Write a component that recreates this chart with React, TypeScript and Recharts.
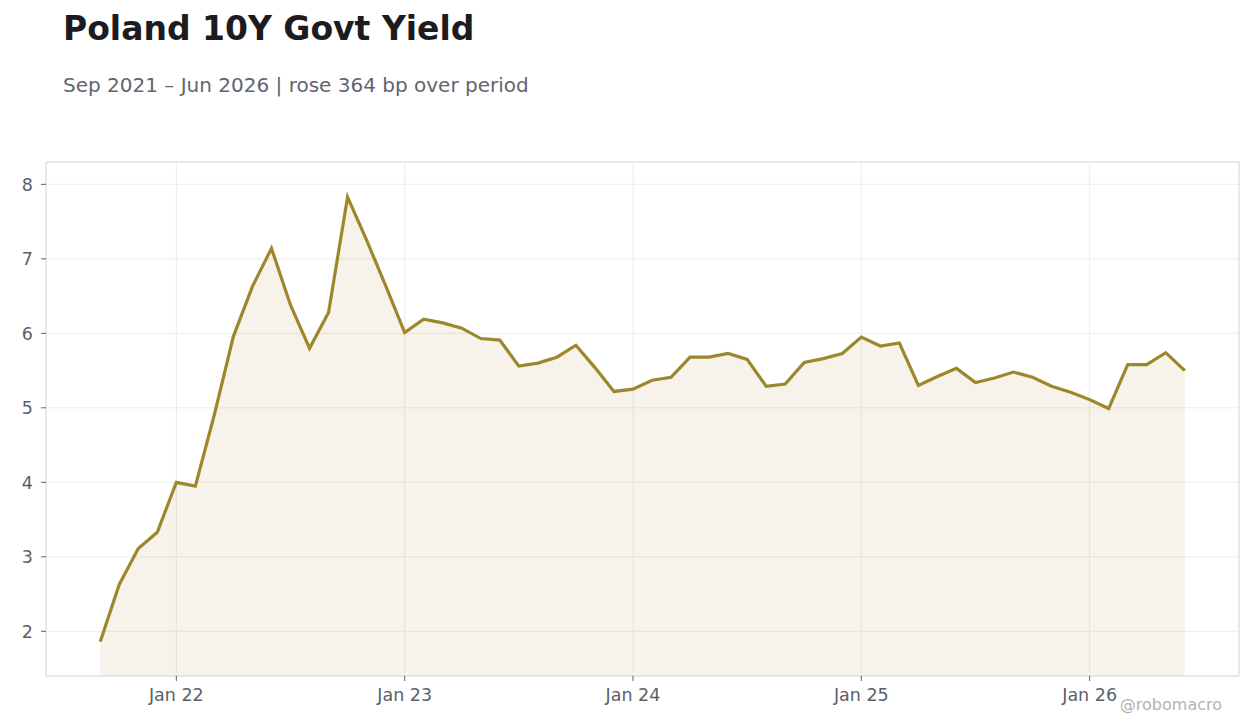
import React from 'react';
import {
  AreaChart,
  Area,
  XAxis,
  YAxis,
  CartesianGrid,
  ReferenceArea
} from 'recharts';

const MONTHS = [
  'Sep 21', 'Oct 21', 'Nov 21', 'Dec 21',
  'Jan 22', 'Feb 22', 'Mar 22', 'Apr 22', 'May 22', 'Jun 22', 'Jul 22', 'Aug 22', 'Sep 22', 'Oct 22', 'Nov 22', 'Dec 22',
  'Jan 23', 'Feb 23', 'Mar 23', 'Apr 23', 'May 23', 'Jun 23', 'Jul 23', 'Aug 23', 'Sep 23', 'Oct 23', 'Nov 23', 'Dec 23',
  'Jan 24', 'Feb 24', 'Mar 24', 'Apr 24', 'May 24', 'Jun 24', 'Jul 24', 'Aug 24', 'Sep 24', 'Oct 24', 'Nov 24', 'Dec 24',
  'Jan 25', 'Feb 25', 'Mar 25', 'Apr 25', 'May 25', 'Jun 25', 'Jul 25', 'Aug 25', 'Sep 25', 'Oct 25', 'Nov 25', 'Dec 25',
  'Jan 26', 'Feb 26', 'Mar 26', 'Apr 26', 'May 26', 'Jun 26'
];

const YIELDS = [
  1.86, 2.63, 3.11, 3.33,
  4.00, 3.95, 4.91, 5.96, 6.63, 7.14, 6.38, 5.80, 6.28, 7.83, 7.25, 6.64,
  6.01, 6.19, 6.14, 6.07, 5.93, 5.91, 5.56, 5.60, 5.68, 5.84, 5.54, 5.22,
  5.25, 5.37, 5.41, 5.68, 5.68, 5.73, 5.65, 5.29, 5.32, 5.61, 5.66, 5.73,
  5.95, 5.83, 5.87, 5.30, 5.42, 5.53, 5.34, 5.40, 5.48, 5.41, 5.29, 5.21,
  5.11, 4.99, 5.58, 5.58, 5.74, 5.50
];

// x-axis labels shown at these months
const TICK_MONTHS = ['Jan 22', 'Jan 23', 'Jan 24', 'Jan 25', 'Jan 26'];
const Y_TICKS = [2, 3, 4, 5, 6, 7, 8];

const data = YIELDS.map((v, i) => ({ i, month: MONTHS[i], yld: v }));
const xTicks = TICK_MONTHS.map((m) => MONTHS.indexOf(m));

const X_DOMAIN: [number, number] = [-2.85, 59.85];
const Y_DOMAIN: [number, number] = [1.4, 8.3];

const LINE = '#9c872b';
const FONT = '"DejaVu Sans", sans-serif';
const tickStyle = { fill: '#5c5f6b', fontSize: 17.5, fontFamily: FONT };

export default function App() {
  return (
    <div style={{ position: 'absolute', left: 0, top: 0, width: 1260, height: 728, background: '#fff' }}>
      <svg width={1260} height={140} style={{ position: 'absolute', left: 0, top: 0 }}>
        <text x={63} y={40} fontFamily={FONT} fontSize={33} fontWeight="bold" fill="#1b1b20">
          Poland 10Y Govt Yield
        </text>
        <text x={63} y={92} fontFamily={FONT} fontSize={20} fill="#62656f">
          Sep 2021 – Jun 2026 | rose 364 bp over period
        </text>
      </svg>

      <AreaChart
        width={1260}
        height={728}
        data={data}
        margin={{ top: 162, right: 21, bottom: 0, left: 0 }}
      >
        <CartesianGrid stroke="#ececec" strokeWidth={1} />
        <XAxis
          dataKey="i"
          type="number"
          domain={X_DOMAIN}
          ticks={xTicks}
          tickFormatter={(v) => MONTHS[v]}
          axisLine={false}
          tickSize={5}
          tickMargin={8}
          tickLine={{ stroke: '#5c5f6b' }}
          tick={tickStyle}
          height={52}
          allowDataOverflow
        />
        <YAxis
          domain={Y_DOMAIN}
          ticks={Y_TICKS}
          axisLine={false}
          tickSize={5}
          tickMargin={8}
          tickLine={{ stroke: '#5c5f6b' }}
          tick={tickStyle}
          width={46}
          allowDataOverflow
        />
        <Area
          type="linear"
          dataKey="yld"
          stroke={LINE}
          strokeWidth={3.2}
          fill="#af8737"
          fillOpacity={0.1}
          dot={false}
          activeDot={false}
          isAnimationActive={false}
        />
        <ReferenceArea
          x1={X_DOMAIN[0]}
          x2={X_DOMAIN[1]}
          y1={Y_DOMAIN[0]}
          y2={Y_DOMAIN[1]}
          fill="none"
          stroke="#dcdcdf"
          strokeWidth={1}
          ifOverflow="visible"
        />
      </AreaChart>

      <svg width={1260} height={728} style={{ position: 'absolute', left: 0, top: 0, pointerEvents: 'none' }}>
        <text x={1222} y={710} textAnchor="end" fontFamily={FONT} fontSize={16} fill="#b3b3b3">
          @robomacro
        </text>
      </svg>
    </div>
  );
}
